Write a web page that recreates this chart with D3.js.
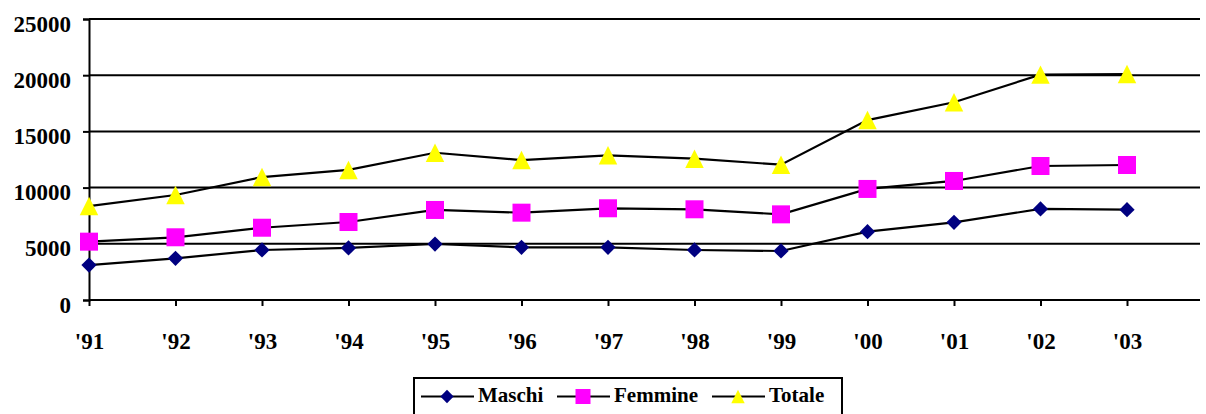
<!DOCTYPE html>
<html><head><meta charset="utf-8">
<script src="https://cdn.jsdelivr.net/npm/d3@7"></script>
<style>body{margin:0;background:#fff}svg{display:block}</style>
</head><body><svg id="c" width="1206" height="414"></svg>
<script>
const categories = ["'91","'92","'93","'94","'95","'96","'97","'98","'99","'00","'01","'02","'03"];
const maschi  = [3110,3710,4450,4630,4980,4690,4690,4450,4360,6080,6910,8100,8040];
const femmine = [5190,5580,6430,6940,8010,7770,8160,8070,7620,9880,10590,11920,12010];
const totale  = [8360,9340,10940,11570,13100,12450,12870,12570,12040,16010,17590,20050,20100];
const yTicks = [0,5000,10000,15000,20000,25000];
const seriesNames = ["Maschi","Femmine","Totale"];

(function(){
const FONT = '"Liberation Serif","Times New Roman",serif';
const svg = d3.select("#c");
const mLeft = 89, mRight = 1200, mTop = 19, mBottom = 300;
const step = 86.5;
const x = d3.scalePoint().domain(categories).range([mLeft, mLeft + step*(categories.length-1)]);
const y = d3.scaleLinear().domain([0,25000]).range([mBottom, mTop]);

const triType = {draw(ctx, size){ const w = Math.sqrt(size), h = w; ctx.moveTo(0,-h/2); ctx.lineTo(w/2,h/2); ctx.lineTo(-w/2,h/2); ctx.closePath(); }};

svg.append("g").selectAll("line").data(yTicks).join("line")
  .attr("x1", mLeft).attr("x2", mRight).attr("y1", d=>y(d)).attr("y2", d=>y(d))
  .attr("stroke","#000").attr("stroke-width",2);

const ya = svg.append("g").attr("transform",`translate(${mLeft},0)`)
  .call(d3.axisLeft(y).tickValues(yTicks).tickSize(6).tickPadding(12).tickFormat(d3.format("d")));
ya.select(".domain").attr("stroke","#000").attr("stroke-width",2);
ya.selectAll(".tick line").attr("stroke","#000").attr("stroke-width",2);
ya.selectAll("text").attr("dy",null).attr("y",12)
  .style("font-family",FONT).style("font-weight","bold").style("font-size","23px").attr("fill","#000");

const xa = svg.append("g").attr("transform",`translate(0,${mBottom})`)
  .call(d3.axisBottom(x).tickSize(6));
xa.select(".domain").remove();
xa.selectAll(".tick line").attr("stroke","#000").attr("stroke-width",2);
xa.selectAll("text").attr("dy",null).attr("y",49)
  .style("font-family",FONT).style("font-weight","bold").style("font-size","23px").attr("fill","#000");

const line = d3.line().x((d,i)=>x(categories[i])).y(d=>y(d));
const series = [
  {name:"Maschi", values:maschi, color:"#000080", sym:d3.symbolDiamond2, size:148, lsize:112},
  {name:"Femmine", values:femmine, color:"#FF00FF", sym:d3.symbolSquare, size:324, lsize:225},
  {name:"Totale", values:totale, color:"#FFFF00", sym:triType, size:340, lsize:180}
];
series.forEach(s=>{
  svg.append("path").attr("d", line(s.values)).attr("fill","none").attr("stroke","#000").attr("stroke-width",2.2);
});
series.forEach(s=>{
  const sym = d3.symbol().type(s.sym).size(s.size);
  svg.append("g").selectAll("path").data(s.values).join("path")
    .attr("transform",(d,i)=>`translate(${x(categories[i])},${y(d)})`)
    .attr("d", sym).attr("fill", s.color);
});

const lg = svg.append("g");
lg.append("rect").attr("x",414).attr("y",378).attr("width",428).attr("height",40)
  .attr("fill","#fff").attr("stroke","#000").attr("stroke-width",2);
const legendX = [421, 557, 712];
series.forEach((s,i)=>{
  const lx = legendX[i], ly = 396.5;
  lg.append("line").attr("x1",lx).attr("x2",lx+53).attr("y1",ly).attr("y2",ly).attr("stroke","#000").attr("stroke-width",2);
  const sym = d3.symbol().type(s.sym).size(s.lsize);
  lg.append("path").attr("transform",`translate(${lx+26},${ly})`).attr("d",sym).attr("fill",s.color);
  lg.append("text").attr("x",lx+57).attr("y",402)
    .style("font-family",FONT).style("font-weight","bold").style("font-size","21px").attr("fill","#000").text(seriesNames[i]);
});
})();
</script></body></html>
